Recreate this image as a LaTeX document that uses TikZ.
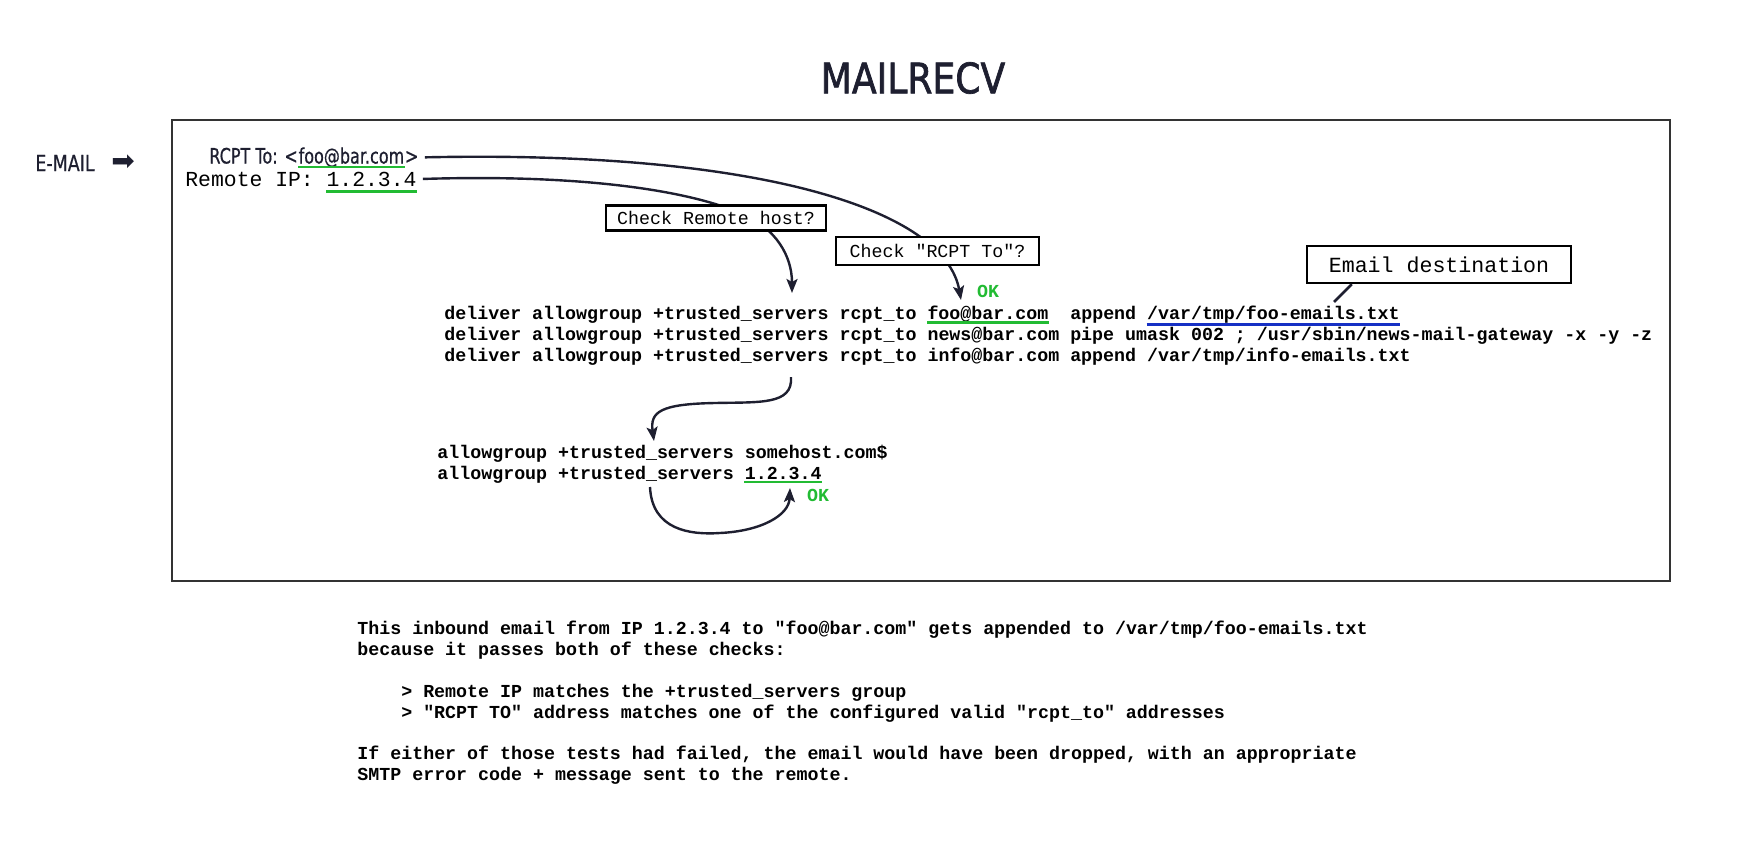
\documentclass[tikz,border=0pt]{standalone}
\usepackage{fontspec}
\setmainfont{Liberation Sans}
\newfontfamily\monofont{Liberation Mono}
\newfontfamily\titlefont[FakeStretch=0.86,FakeBold=1.6]{DejaVu Sans}
\newfontfamily\condfont[FakeStretch=0.78,FakeBold=0.6]{DejaVu Sans}
\newfontfamily\rcptfont[FakeStretch=0.755,FakeBold=0.6]{DejaVu Sans}
\newfontfamily\symfont{DejaVu Sans}
\usetikzlibrary{arrows.meta}
\definecolor{ink}{RGB}{30,31,48}
\definecolor{framegray}{RGB}{51,51,51}
\definecolor{okgreen}{RGB}{34,187,51}
\definecolor{destblue}{RGB}{22,48,196}
\begin{document}
\begin{tikzpicture}[x={(0.5pt,0pt)},y={(0pt,-0.5pt)},
  mono/.style={font=\monofont\bfseries\fontsize{9.15}{10.6}\selectfont, inner sep=0pt, anchor=base west, text=black},
  monoreg/.style={font=\monofont\fontsize{10.7}{12}\selectfont, inner sep=0pt, anchor=base west, text=black},
  cond/.style={font=\rcptfont\fontsize{10.6}{12}\selectfont, inner sep=0pt, anchor=base west, text=ink},
  cbox/.style={draw=black, line width=1.2pt, fill=white, font=\monofont\fontsize{9.15}{10}\selectfont, inner sep=0pt},
  conn/.style={draw=ink, line width=1.2pt, -{Stealth[length=7pt,width=5.5pt,inset=1.5pt]}},
  plainline/.style={draw=ink, line width=1.3pt},
  ulg/.style={draw=okgreen, line width=1.2pt},
  ulb/.style={draw=destblue, line width=1.4pt},
  ok/.style={font=\monofont\bfseries\fontsize{9.15}{10}\selectfont, text=okgreen, inner sep=0pt}
]
\useasboundingbox (0,0) rectangle (1752,852);

% title
\node[font=\titlefont\fontsize{21}{24}\selectfont, text=ink, inner sep=0pt] (title) at (913,78) {MAILRECV};

% frame
\draw[framegray, line width=1pt] (172,120) rectangle (1670,581);

% e-mail label
\node[font=\condfont\fontsize{11.2}{12}\selectfont, text=ink, inner sep=0pt, anchor=west] (email) at (35,163) {E-MAIL};
\node[font=\symfont\fontsize{14}{14}\selectfont, text=ink, inner sep=0pt] (emailarrow) at (123,163) {➡};

% RCPT To line
\node[cond] (rc1) at (209,163.5) {RCPT To: <};
\node[cond] (rc2) at (rc1.base east) {foo@bar.com};
\node[cond] (rc3) at (rc2.base east) {>};
\draw[ulg] ([yshift=-1.7pt]rc2.base west) -- ([yshift=-1.7pt]rc2.base east);

% Remote IP line
\node[monoreg] (rip1) at (185,186) {Remote IP:};
\node[monoreg] (rip2) at (326.2,186) {1.2.3.4};
\draw[ulg] ([yshift=-2.7pt]rip2.base west) -- ([yshift=-2.7pt]rip2.base east);

% deliver lines
\node[mono] (d1a) at (444,319.5) {deliver allowgroup +trusted\_servers rcpt\_to};
\node[mono] (d1b) at (927.1,319.5) {foo@bar.com};
\node[mono] (d1c) at (1069.9,319.5) {append};
\node[mono] (d1d) at (1146.7,319.5) {/var/tmp/foo-emails.txt};
\draw[ulg] ([yshift=-1.5pt]d1b.base west) -- ([yshift=-1.5pt]d1b.base east);
\draw[ulb] ([yshift=-2.4pt]d1d.base west) -- ([yshift=-2.4pt]d1d.base east);
\node[mono] (d2) at (444,340.5) {deliver allowgroup +trusted\_servers rcpt\_to news@bar.com pipe umask 002 ; /usr/sbin/news-mail-gateway -x -y -z};
\node[mono] (d3) at (444,361.5) {deliver allowgroup +trusted\_servers rcpt\_to info@bar.com append /var/tmp/info-emails.txt};

% allowgroup lines
\node[mono] (a1) at (437,458) {allowgroup +trusted\_servers somehost.com\$};
\node[mono] (a2a) at (437,479.2) {allowgroup +trusted\_servers};
\node[mono] (a2b) at (744.4,479.2) {1.2.3.4};
\draw[ulg] ([yshift=-1.4pt]a2b.base west) -- ([yshift=-1.4pt]a2b.base east);

% OK labels
\node[ok] (ok1) at (988,291) {OK};
\node[ok] (ok2) at (818,495) {OK};

% connector end points
\coordinate (tipfoo) at (961,300);
\coordinate (tipdeliver) at (792,293);
\coordinate (startgroup) at (791,377);
\coordinate (tipgroup) at (654,441);
\coordinate (startip) at (650,487);
\coordinate (tipip) at (790,488);
\coordinate (destfoot) at (1334,302);

% connectors (under the boxes)
\draw[conn] ([xshift=3pt]rc3.east) .. controls (760,150) and (945,210) .. (tipfoo);
\draw[conn] ([xshift=3pt]rip2.east) .. controls (580,174) and (690,190) .. (745,215)
   .. controls (775,229) and (792,255) .. (tipdeliver);
\draw[conn] (startgroup) .. controls (793,405) and (760,402) .. (715,403)
   .. controls (660,404) and (650,412) .. (tipgroup);
\draw[conn] (startip) .. controls (652,530) and (690,535) .. (720,533)
   .. controls (762,531) and (789,515) .. (tipip);

% boxes
\node[cbox, minimum width=110pt, minimum height=12.5pt] (chkhost) at (716,218) {Check Remote host?};
\node[cbox, minimum width=101.5pt, minimum height=14pt] (chkrcpt) at (937.5,251) {Check "RCPT To"?};
\node[cbox, font=\monofont\fontsize{10.8}{12}\selectfont, minimum width=132pt, minimum height=18.5pt] (dest) at (1439,264.5) {Email destination};
\draw[plainline] ([xshift=23pt]dest.south west) -- (destfoot);

% explanation
\node[mono] (p1) at (357,634.5) {This inbound email from IP 1.2.3.4 to "foo@bar.com" gets appended to /var/tmp/foo-emails.txt};
\node[mono] (p2) at (357,655.7) {because it passes both of these checks:};
\node[mono] (p3) at (400.9,697) {> Remote IP matches the +trusted\_servers group};
\node[mono] (p4) at (400.9,718.2) {> "RCPT TO" address matches one of the configured valid "rcpt\_to" addresses};
\node[mono] (p5) at (357,759.5) {If either of those tests had failed, the email would have been dropped, with an appropriate};
\node[mono] (p6) at (357,780.7) {SMTP error code + message sent to the remote.};
\end{tikzpicture}
\end{document}
